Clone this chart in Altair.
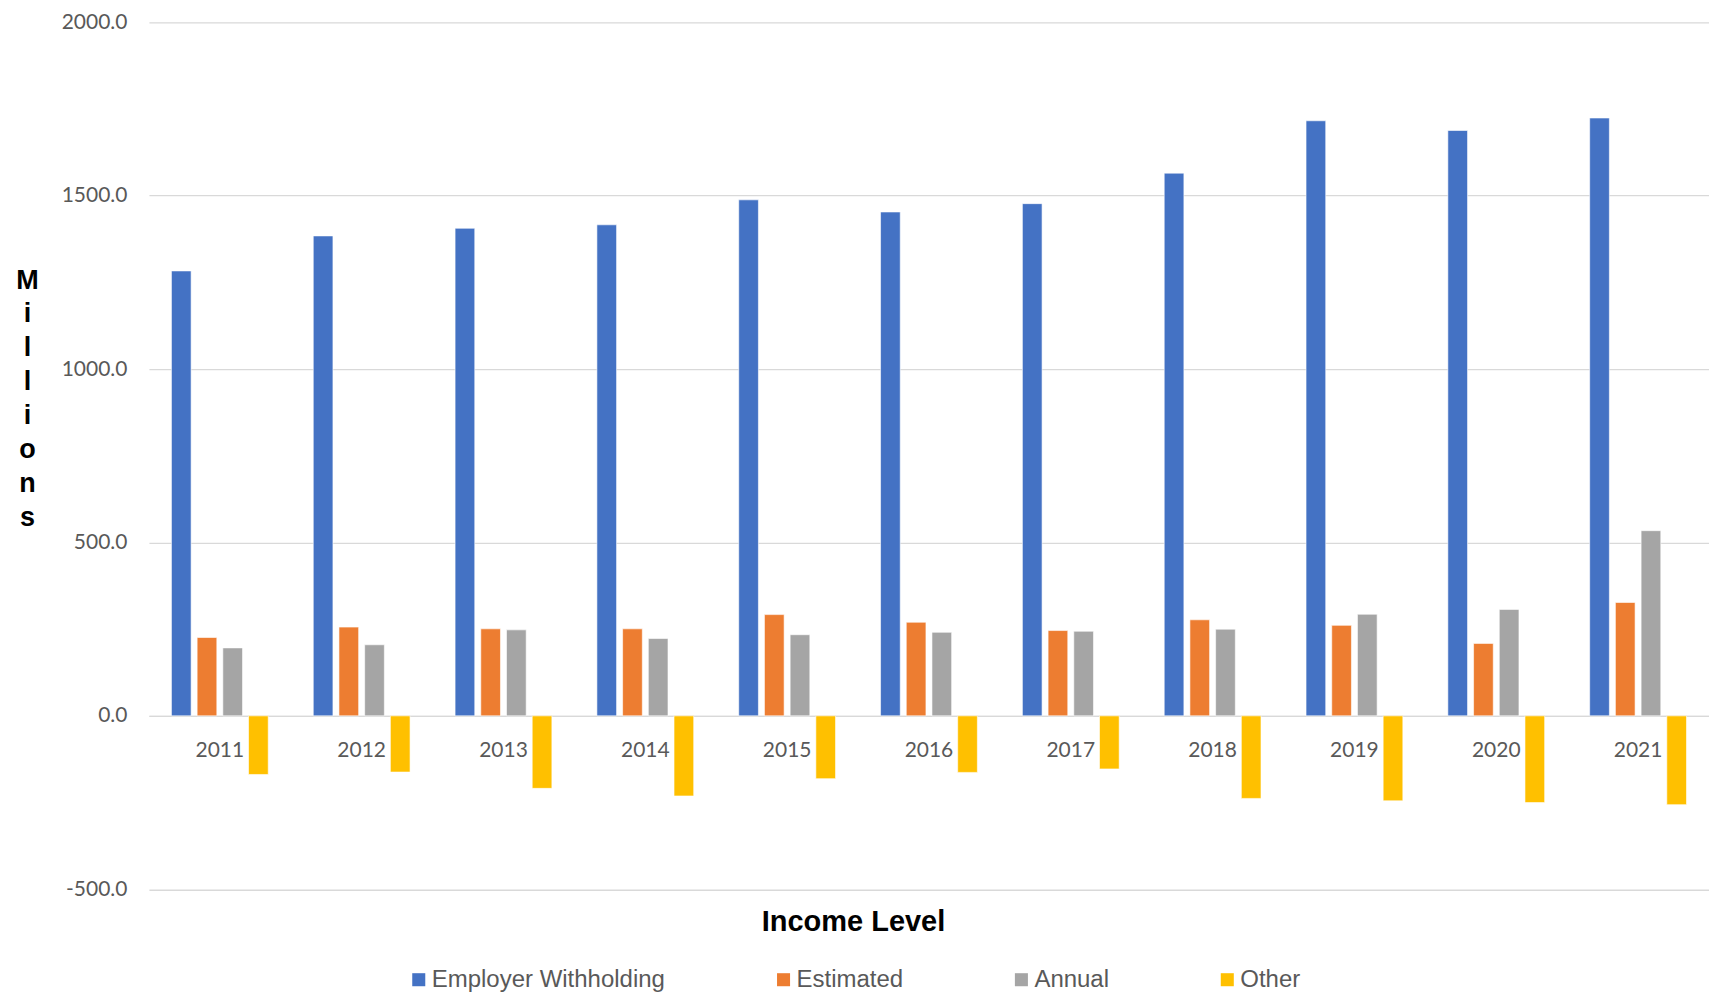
import altair as alt
import pandas as pd

years = ["2011", "2012", "2013", "2014", "2015", "2016", "2017", "2018", "2019", "2020", "2021"]
series_names = ["Employer Withholding", "Estimated", "Annual", "Other"]
employer_withholding = [1283, 1384, 1406, 1416, 1488, 1453, 1477, 1565, 1716, 1688, 1724]
estimated = [226, 256, 251, 251, 292, 270, 246, 277, 261, 209, 327]
annual = [196, 205, 248, 223, 234, 241, 244, 250, 293, 307, 534]
other = [-169, -162, -209, -231, -181, -163, -153, -238, -245, -250, -256]
colors = ["#4472C4", "#ED7D31", "#A5A5A5", "#FFC000"]

rows = []
for name, vals in zip(series_names, [employer_withholding, estimated, annual, other]):
    for y, v in zip(years, vals):
        rows.append({"Year": y, "Series": name, "Value": v})
df = pd.DataFrame(rows)

chart = alt.Chart(df).mark_bar(stroke="white", strokeWidth=0.6).encode(
    x=alt.X(
        "Year:N",
        sort=years,
        scale=alt.Scale(paddingInner=0.275, paddingOuter=0.1375),
        axis=alt.Axis(
            title=None,
            labelAngle=0,
            offset=-173.5,
            ticks=False,
            domain=True,
            domainColor="#d9d9d9",
            domainWidth=1.3,
            labelPadding=24,
            labelFont="Lato",
            labelFontSize=21,
            labelColor="#595959",
        ),
    ),
    xOffset=alt.XOffset(
        "Series:N",
        sort=series_names,
        scale=alt.Scale(paddingInner=0.234, paddingOuter=0.117),
    ),
    y=alt.Y(
        "Value:Q",
        scale=alt.Scale(domain=[-500, 2000], nice=False),
        axis=alt.Axis(
            values=[-500, 0, 500, 1000, 1500, 2000],
            format=".1f",
            labelExpr="replace(datum.label, '\u2212', '-')",
            title=["M", "i", "l", "l", "i", "o", "n", "s"],
            titleAngle=0,
            titleX=-122,
            titleY=258,
            titleAlign="center",
            titleBaseline="middle",
            titleLineHeight=33.9,
            titleFont="Liberation Sans",
            titleFontSize=27,
            titleFontWeight="bold",
            titleColor="#000000",
            domain=False,
            ticks=False,
            labelPadding=22,
            labelFont="Lato",
            labelFontSize=21,
            labelColor="#595959",
            gridColor="#d9d9d9",
            gridWidth=1.3,
        ),
    ),
    color=alt.Color(
        "Series:N",
        sort=series_names,
        scale=alt.Scale(domain=series_names, range=colors),
        legend=alt.Legend(
            title="Income Level",
            titleOrient="top",
            titleAnchor="middle",
            titleFont="Liberation Sans",
            titleFontSize=29,
            titleFontWeight="bold",
            titleColor="#000000",
            titlePadding=31,
            titleLimit=800,
            orient="none",
            legendX=258,
            legendY=886,
            direction="horizontal",
            symbolType="square",
            symbolSize=170,
            symbolStrokeWidth=0,
            labelFont="Liberation Sans",
            labelFontSize=24,
            labelColor="#595959",
            labelOffset=1,
            columnPadding=106,
            labelLimit=400,
        ),
    ),
).properties(
    width=1561,
    height=867.5,
    padding={"left": 7, "top": 3, "right": 0, "bottom": 0},
).configure_view(stroke=None)

chart.save("out.html", embed_options={"renderer": "svg", "actions": False})
